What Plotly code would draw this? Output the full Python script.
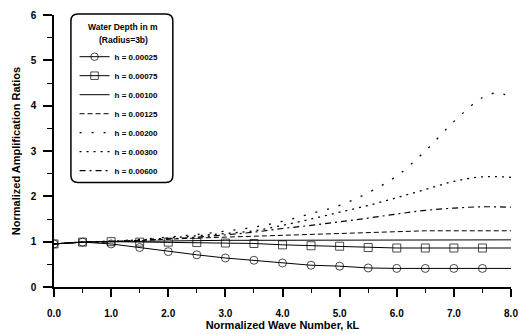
import plotly.graph_objects as go

kl = [0.0, 0.5, 1.0, 1.5, 2.0, 2.5, 3.0, 3.5, 4.0, 4.5, 5.0, 5.5, 6.0, 6.5, 7.0, 7.5, 8.0]
kl_peak = [0.0, 0.5, 1.0, 1.5, 2.0, 2.5, 3.0, 3.5, 4.0, 4.5, 5.0, 5.5, 6.0, 6.5, 7.0, 7.5, 7.75, 8.0]

h_00025 = [0.95, 0.99, 0.95, 0.87, 0.78, 0.71, 0.64, 0.59, 0.53, 0.48, 0.46, 0.42, 0.41, 0.41, 0.41, 0.41, 0.41]
h_00075 = [0.95, 0.99, 1.00, 0.99, 0.99, 0.98, 0.97, 0.96, 0.93, 0.91, 0.90, 0.87, 0.86, 0.86, 0.86, 0.86, 0.86]
h_00100 = [0.95, 0.99, 1.00, 1.01, 1.02, 1.02, 1.03, 1.03, 1.03, 1.03, 1.04, 1.04, 1.04, 1.04, 1.04, 1.04, 1.04]
h_00125 = [0.95, 0.99, 1.00, 1.03, 1.05, 1.08, 1.10, 1.12, 1.15, 1.17, 1.19, 1.21, 1.23, 1.24, 1.24, 1.24, 1.24]
h_00200 = [0.95, 0.99, 1.01, 1.05, 1.10, 1.16, 1.23, 1.32, 1.45, 1.62, 1.80, 2.08, 2.45, 3.00, 3.65, 4.18, 4.28, 4.20]
h_00300 = [0.95, 0.99, 1.01, 1.04, 1.08, 1.13, 1.18, 1.24, 1.36, 1.50, 1.65, 1.80, 1.97, 2.15, 2.33, 2.43, 2.42]
h_00600 = [0.95, 0.99, 1.00, 1.03, 1.06, 1.10, 1.15, 1.21, 1.29, 1.36, 1.44, 1.52, 1.61, 1.69, 1.74, 1.77, 1.76]

labels = ["h = 0.00025", "h = 0.00075", "h = 0.00100", "h = 0.00125",
          "h = 0.00200", "h = 0.00300", "h = 0.00600"]
legend_title = ["Water Depth in m", "(Radius=3b)"]

FONT = "Liberation Sans, Arial, sans-serif"
msize = [8] * (len(kl) - 1) + [0]

fig = go.Figure()
fig.add_trace(go.Scatter(x=kl, y=h_00025, name=labels[0], mode="lines+markers",
                         line=dict(color="black", width=1),
                         marker=dict(symbol="circle-open", size=msize, color="black", line=dict(width=1))))
fig.add_trace(go.Scatter(x=kl, y=h_00075, name=labels[1], mode="lines+markers",
                         line=dict(color="black", width=1),
                         marker=dict(symbol="square-open", size=msize, color="black", line=dict(width=1))))
fig.add_trace(go.Scatter(x=kl, y=h_00100, name=labels[2], mode="lines",
                         line=dict(color="black", width=1)))
fig.add_trace(go.Scatter(x=kl, y=h_00125, name=labels[3], mode="lines",
                         line=dict(color="black", width=1, dash="5px,3px")))
fig.add_trace(go.Scatter(x=kl_peak, y=h_00200, name=labels[4], mode="lines",
                         line=dict(color="black", width=1.3, dash="2px,10px"), line_shape="spline"))
fig.add_trace(go.Scatter(x=kl, y=h_00300, name=labels[5], mode="lines",
                         line=dict(color="black", width=1.3, dash="2px,5px"), line_shape="spline"))
fig.add_trace(go.Scatter(x=kl, y=h_00600, name=labels[6], mode="lines",
                         line=dict(color="black", width=1.2, dash="6px,4px,2px,4px"), line_shape="spline"))

# rounded legend frame (paper coords)
x0, x1, y0, y1 = 0.037, 0.260, 0.384, 1.004
rx, ry = 7 / 457, 7 / 272
path = (f"M {x0+rx},{y1} L {x1-rx},{y1} Q {x1},{y1} {x1},{y1-ry} "
        f"L {x1},{y0+ry} Q {x1},{y0} {x1-rx},{y0} L {x0+rx},{y0} "
        f"Q {x0},{y0} {x0},{y0+ry} L {x0},{y1-ry} Q {x0},{y1} {x0+rx},{y1} Z")
fig.add_shape(type="path", path=path, xref="paper", yref="paper",
              line=dict(color="black", width=1.5), fillcolor="rgba(0,0,0,0)")

for txt, yy in zip(legend_title, [0.956, 0.908]):
    fig.add_annotation(text=txt, x=0.151, y=yy, xref="paper", yref="paper",
                       showarrow=False, xanchor="center", yanchor="middle",
                       font=dict(family=FONT, size=8.5, color="black", weight="bold"))

fig.update_layout(
    width=521, height=334,
    margin=dict(l=54, r=10, t=15, b=47),
    paper_bgcolor="white", plot_bgcolor="white",
    font=dict(family=FONT, color="black"),
    showlegend=True,
    legend=dict(
        x=0.045, y=0.90, xanchor="left", yanchor="top",
        bgcolor="rgba(0,0,0,0)", borderwidth=0,
        font=dict(family=FONT, size=8, color="black", weight="bold"),
        itemwidth=30, tracegroupgap=0,
    ),
    xaxis=dict(
        range=[0, 8], dtick=1, tick0=0, tickformat=".1f", automargin=False,
        showgrid=False, zeroline=False, showline=True, linecolor="black", linewidth=1.5,
        ticks="outside", ticklen=8, tickwidth=1.5, tickcolor="black",
        minor=dict(dtick=0.5, ticks="outside", ticklen=4, tickwidth=1, tickcolor="black"),
        tickfont=dict(family=FONT, size=10, weight="bold"),
        ticklabelstandoff=8,
        title=dict(text="Normalized Wave Number, kL", standoff=4,
                   font=dict(family=FONT, size=11, weight="bold")),
    ),
    yaxis=dict(
        range=[0, 6], dtick=1, tick0=0, automargin=False,
        showgrid=False, zeroline=False, showline=True, linecolor="black", linewidth=1.5,
        ticks="outside", ticklen=9, tickwidth=1.5, tickcolor="black",
        minor=dict(dtick=0.5, ticks="outside", ticklen=5, tickwidth=1, tickcolor="black"),
        tickfont=dict(family=FONT, size=10, weight="bold"),
        ticklabelstandoff=5,
        title=dict(text="Normalized Amplification Ratios", standoff=8,
                   font=dict(family=FONT, size=11, weight="bold")),
    ),
)

fig.write_html("out.html")
